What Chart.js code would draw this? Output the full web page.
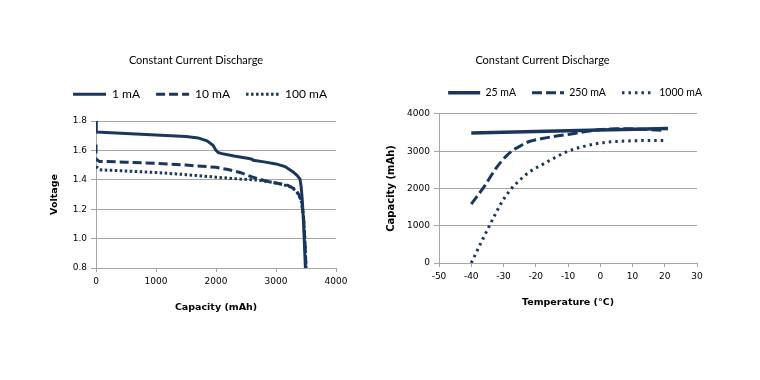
<!DOCTYPE html>
<html><head><meta charset="utf-8">
<script src="https://cdn.jsdelivr.net/npm/chart.js@4.4.1/dist/chart.umd.min.js"></script>
<style>
html,body{margin:0;padding:0;background:#fff;width:760px;height:380px;overflow:hidden;position:relative;}
canvas{position:absolute;top:0;}
#c1{left:0;} #c2{left:360px;}
</style></head><body>
<canvas id="c1" width="380" height="380"></canvas>
<canvas id="c2" width="400" height="380"></canvas>
<script>
const chartTitle = 'Constant Current Discharge';

// ---- Left chart: voltage vs capacity ----
const dischargeSeries = ['1 mA', '10 mA', '100 mA'];
const cap1mA   = [0, 0, 10, 500, 1000, 1500, 1700, 1850, 1950, 2000, 2040, 2100, 2300, 2550, 2600, 2620, 2800, 3000, 3150, 3280, 3350, 3400, 3420, 3440, 3460, 3480, 3490];
const volt1mA  = [1.80, 1.74, 1.725, 1.715, 1.705, 1.695, 1.685, 1.665, 1.635, 1.60, 1.585, 1.578, 1.562, 1.545, 1.54, 1.533, 1.522, 1.508, 1.49, 1.455, 1.43, 1.405, 1.35, 1.25, 1.10, 0.90, 0.80];
const cap10mA  = [0, 0, 60, 500, 1000, 1500, 2000, 2200, 2400, 2600, 2800, 3000, 3200, 3300, 3380, 3430, 3460, 3485, 3500];
const volt10mA = [1.64, 1.54, 1.525, 1.52, 1.512, 1.50, 1.485, 1.47, 1.45, 1.42, 1.395, 1.378, 1.362, 1.34, 1.30, 1.25, 1.14, 0.96, 0.80];
const cap100mA  = [0, 60, 500, 1000, 1500, 2000, 2400, 2700, 2900, 3100, 3250, 3350, 3420, 3460, 3485, 3500];
const volt100mA = [1.49, 1.468, 1.46, 1.45, 1.435, 1.418, 1.405, 1.398, 1.385, 1.37, 1.35, 1.32, 1.26, 1.14, 0.96, 0.80];
const capacityTicks = [0, 1000, 2000, 3000, 4000];
const voltageTicks = [0.8, 1.0, 1.2, 1.4, 1.6, 1.8];

// ---- Right chart: capacity vs temperature ----
const tempSeries = ['25 mA', '250 mA', '1000 mA'];
const temp25mA = [-40, 0, 21];
const capT25mA = [3490, 3570, 3610];
const temp250mA = [-40, -36, -32, -29, -27, -25, -22, -18, -14, -10, -5, 0, 5, 10, 15, 20];
const capT250mA = [1580, 2050, 2580, 2880, 3030, 3130, 3260, 3340, 3400, 3450, 3520, 3580, 3600, 3600, 3580, 3560];
const temp1000mA = [-40, -37, -34, -31, -28, -25, -22, -18, -14, -10, -5, 0, 5, 10, 15, 20];
const capT1000mA = [0, 540, 1060, 1560, 1950, 2220, 2440, 2640, 2830, 3000, 3130, 3220, 3260, 3280, 3285, 3285];
const temperatureTicks = [-50, -40, -30, -20, -10, 0, 10, 20, 30];
const capacityTTicks = [0, 1000, 2000, 3000, 4000];

const NAVY = '#1b365d';
const GRID = '#a6a6a6';
const zip = (xs, ys) => xs.map((x, i) => ({x, y: ys[i]}));
const setTicks = arr => scale => { scale.ticks = arr.map(v => ({value: v})); };

function legendLabels(chart) {
  return Chart.defaults.plugins.legend.labels.generateLabels(chart).map(item => {
    const ds = chart.data.datasets[item.datasetIndex];
    return Object.assign(item, {lineDash: ds.borderDash || [], lineWidth: ds.borderWidth, strokeStyle: ds.borderColor, fillStyle: ds.borderColor});
  });
}

function makeOptions(cfg) {
  return {
    responsive: false,
    animation: false,
    devicePixelRatio: 1,
    layout: {padding: cfg.padding},
    plugins: {
      title: {
        display: true, text: chartTitle, color: '#000',
        font: {family: 'Lato', size: 11, weight: 'normal', lineHeight: 1.2},
        padding: {top: 54, bottom: cfg.titleBottom}
      },
      subtitle: {
        display: true, text: '', weight: 500, padding: 0,
        font: {size: cfg.spacer, lineHeight: 1}
      },
      legend: {
        display: true, position: 'top', align: 'end',
        labels: {
          usePointStyle: true, pointStyle: 'line', pointStyleWidth: cfg.legendLine,
          padding: 16, color: '#000',
          font: {family: 'Lato', size: cfg.legendFont},
          generateLabels: legendLabels
        }
      },
      tooltip: {enabled: false}
    },
    elements: {point: {radius: 0}, line: {tension: 0}},
    scales: {
      x: {
        type: 'linear', min: cfg.xTicks[0], max: cfg.xTicks[cfg.xTicks.length - 1],
        afterBuildTicks: setTicks(cfg.xTicks),
        afterFit: s => { s.height = 45; },
        grid: {display: true, drawOnChartArea: false, drawTicks: true, tickLength: 4, color: GRID},
        border: {display: true, color: GRID},
        ticks: {color: '#000', font: {family: 'DejaVu Sans', size: 9}, padding: 4, autoSkip: false, maxRotation: 0, callback: v => String(v)},
        title: {display: true, text: cfg.xTitle, color: '#000', font: {family: 'DejaVu Sans', size: 9.5, weight: 'bold'}, padding: {top: 0, bottom: 0}}
      },
      y: {
        type: 'linear', min: cfg.yTicks[0], max: cfg.yTicks[cfg.yTicks.length - 1],
        afterBuildTicks: setTicks(cfg.yTicks),
        afterFit: s => { s.width = cfg.yWidth; },
        grid: {display: true, drawTicks: true, tickLength: 5, color: GRID},
        border: {display: true, color: GRID},
        ticks: {color: '#000', font: {family: 'DejaVu Sans', size: 9}, padding: 4, callback: cfg.yFmt},
        title: {display: true, text: cfg.yTitle, color: '#000', font: {family: 'DejaVu Sans', size: cfg.yTitleSize, weight: 'bold'}, padding: {top: cfg.yTitlePad, bottom: 0}}
      },
      yspace: {
        type: 'linear', position: 'right', display: true,
        afterFit: s => { s.width = cfg.rightSpace; },
        grid: {display: false}, border: {display: false}, ticks: {display: false}
      }
    }
  };
}

new Chart(document.getElementById('c1'), {
  type: 'line',
  data: {
    datasets: [
      {label: dischargeSeries[0], data: zip(cap1mA, volt1mA), borderColor: NAVY, backgroundColor: NAVY, borderWidth: 3},
      {label: dischargeSeries[1], data: zip(cap10mA, volt10mA), borderColor: NAVY, backgroundColor: NAVY, borderWidth: 3, borderDash: [9, 4]},
      {label: dischargeSeries[2], data: zip(cap100mA, volt100mA), borderColor: NAVY, backgroundColor: NAVY, borderWidth: 3, borderDash: [2.5, 2.5]}
    ]
  },
  options: makeOptions({
    padding: {left: 49, right: 37, top: 0, bottom: 67},
    titleBottom: 5, spacer: 10.8, legendLine: 33, legendFont: 12,
    xTicks: capacityTicks, yTicks: voltageTicks,
    xTitle: 'Capacity (mAh)', yTitle: 'Voltage',
    yWidth: 47, yTitleSize: 9.5, yTitlePad: 0.3, rightSpace: 7,
    yFmt: v => Number(v).toFixed(1)
  })
});

new Chart(document.getElementById('c2'), {
  type: 'line',
  data: {
    datasets: [
      {label: tempSeries[0], data: zip(temp25mA, capT25mA), borderColor: NAVY, backgroundColor: NAVY, borderWidth: 3.5},
      {label: tempSeries[1], data: zip(temp250mA, capT250mA), borderColor: NAVY, backgroundColor: NAVY, borderWidth: 3, borderDash: [10, 4], cubicInterpolationMode: 'monotone'},
      {label: tempSeries[2], data: zip(temp1000mA, capT1000mA), borderColor: NAVY, backgroundColor: NAVY, borderWidth: 3, borderDash: [2.5, 4], cubicInterpolationMode: 'monotone'}
    ]
  },
  options: makeOptions({
    padding: {left: 7, right: 42, top: 0, bottom: 72},
    titleBottom: 4.2, spacer: 6, legendLine: 32, legendFont: 10.5,
    xTicks: temperatureTicks, yTicks: capacityTTicks,
    xTitle: 'Temperature (°C)', yTitle: 'Capacity (mAh)',
    yWidth: 72, yTitleSize: 10, yTitlePad: 18.5, rightSpace: 21,
    yFmt: v => String(v)
  })
});
</script>
</body></html>
